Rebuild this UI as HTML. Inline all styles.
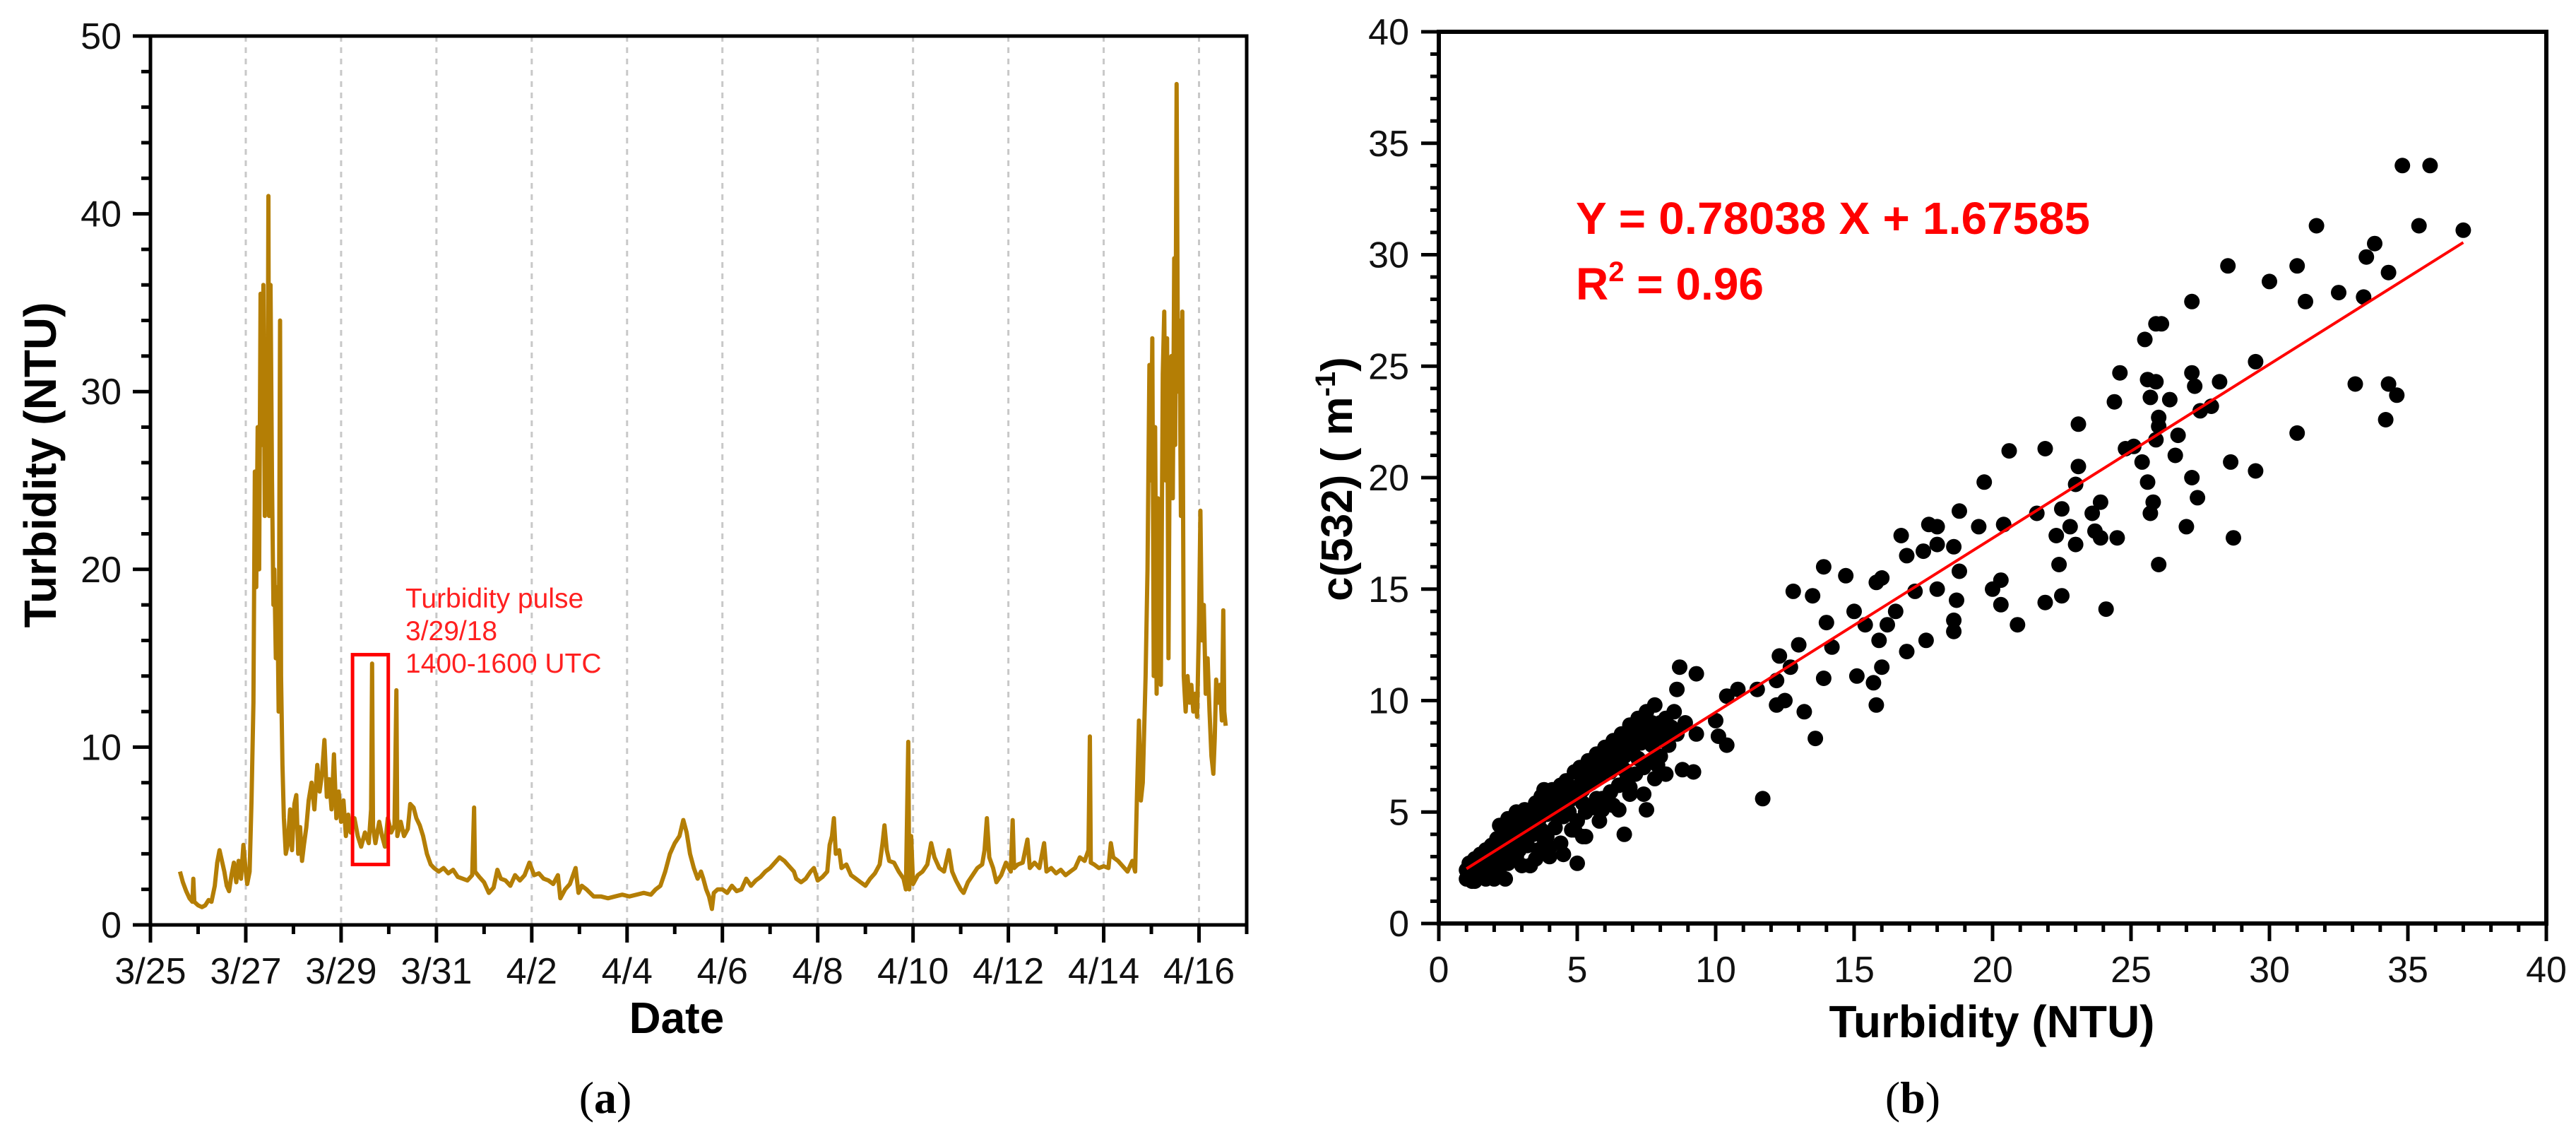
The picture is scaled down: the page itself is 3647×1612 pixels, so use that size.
<!DOCTYPE html>
<html><head><meta charset="utf-8"><style>
html,body{margin:0;padding:0;background:#fff;}
svg{display:block;}
text{font-family:"Liberation Sans",sans-serif;}
</style></head><body>
<svg id="fig" xmlns="http://www.w3.org/2000/svg" width="3647" height="1612" viewBox="0 0 3647 1612">
<g id="chartA"></g>
<g id="chartB"></g>
</svg>
<script>
// ---------- Chart (a) data ----------
const dayTicks = ["3/25","3/27","3/29","3/31","4/2","4/4","4/6","4/8","4/10","4/12","4/14","4/16"];
const yTicksA = [0,10,20,30,40,50];
const seriesDays = [0.62,0.68,0.75,0.82,0.88,0.9,0.92,1.0,1.08,1.15,1.22,1.28,1.35,1.4,1.45,1.5,1.55,1.6,1.65,1.7,1.75,1.8,1.85,1.9,1.95,2.0,2.03,2.08,2.12,2.16,2.19,2.22,2.25,2.28,2.31,2.34,2.37,2.4,2.43,2.46,2.475,2.49,2.52,2.55,2.58,2.6,2.63,2.66,2.69,2.72,2.74,2.77,2.8,2.84,2.88,2.93,2.97,3.02,3.06,3.1,3.14,3.18,3.22,3.27,3.32,3.38,3.44,3.5,3.55,3.6,3.65,3.7,3.75,3.8,3.85,3.9,3.95,4.0,4.05,4.1,4.15,4.2,4.28,4.35,4.42,4.5,4.58,4.63,4.65,4.67,4.72,4.8,4.86,4.92,4.98,5.05,5.12,5.16,5.18,5.25,5.32,5.4,5.45,5.52,5.58,5.65,5.72,5.8,5.88,5.95,6.05,6.15,6.25,6.35,6.45,6.55,6.65,6.75,6.79,6.81,6.9,7.0,7.1,7.2,7.28,7.35,7.45,7.55,7.65,7.75,7.85,7.95,8.05,8.15,8.25,8.35,8.45,8.55,8.6,8.7,8.8,8.92,8.98,9.05,9.15,9.3,9.45,9.6,9.75,9.9,10.05,10.2,10.35,10.5,10.6,10.7,10.8,10.9,11.0,11.1,11.18,11.25,11.32,11.4,11.48,11.55,11.6,11.66,11.72,11.78,11.82,11.9,12.0,12.1,12.2,12.3,12.4,12.5,12.6,12.7,12.8,12.9,13.0,13.1,13.2,13.3,13.4,13.5,13.55,13.65,13.75,13.85,13.92,14.0,14.1,14.2,14.25,14.3,14.34,14.38,14.45,14.5,14.6,14.7,14.8,14.9,15.0,15.1,15.2,15.3,15.36,15.4,15.45,15.5,15.6,15.7,15.8,15.85,15.9,15.92,15.96,16.0,16.1,16.2,16.3,16.38,16.45,16.55,16.65,16.75,16.82,16.9,17.0,17.06,17.15,17.25,17.35,17.45,17.5,17.55,17.6,17.68,17.75,17.85,17.95,18.05,18.09,18.12,18.2,18.3,18.4,18.45,18.55,18.65,18.75,18.8,18.9,19.0,19.1,19.2,19.3,19.4,19.5,19.6,19.68,19.71,19.73,19.8,19.9,20.0,20.1,20.15,20.2,20.3,20.4,20.5,20.6,20.66,20.7,20.74,20.78,20.82,20.88,20.92,20.96,20.99,21.02,21.05,21.08,21.11,21.14,21.17,21.2,21.24,21.27,21.3,21.33,21.36,21.39,21.42,21.45,21.48,21.5,21.53,21.56,21.59,21.62,21.65,21.68,21.72,21.76,21.8,21.84,21.88,21.92,21.96,22.0,22.03,22.06,22.1,22.14,22.18,22.22,22.26,22.3,22.33,22.36,22.4,22.44,22.48,22.51,22.53,22.56];
const seriesNTU = [3.0,2.4,1.9,1.5,1.3,2.6,1.3,1.1,1.0,1.1,1.4,1.3,2.2,3.5,4.2,3.6,3.0,2.2,1.9,2.8,3.5,2.4,3.6,2.6,4.5,3.0,2.3,3.0,7.0,12.5,25.5,19,28,20,35.5,27,36,23,33,29,41,23,36,25,18,20,15,19,12,34,14,9,6,4,4.5,6.5,4.2,6.8,7.3,4.0,5.5,3.6,4.5,5.5,7.0,8.0,6.5,9.0,7.5,8.5,10.4,7.2,8.2,6.5,9.6,6.0,7.5,5.8,7.0,5.0,6.2,5.2,6.0,5.0,4.4,5.2,4.6,6.5,14.7,5.5,4.6,5.8,5.0,4.4,6.0,5.2,5.6,13.2,5.0,5.8,5.0,5.4,6.8,6.6,6.0,5.6,5.0,4.0,3.4,3.2,3.0,3.2,2.9,3.1,2.7,2.6,2.5,2.8,6.6,3.0,2.7,2.4,1.8,2.1,3.1,2.6,2.5,2.2,2.8,2.5,2.8,3.5,2.8,2.9,2.6,2.5,2.3,2.8,1.5,2.0,2.3,3.2,1.8,2.2,2.0,1.6,1.6,1.5,1.6,1.7,1.6,1.7,1.8,1.7,2.0,2.2,3.0,4.0,4.6,5.0,5.9,5.2,4.0,3.2,2.6,3.0,2.6,2.0,1.6,0.9,1.8,2.0,2.0,1.8,2.2,1.9,2.0,2.6,2.2,2.5,2.7,3.0,3.2,3.5,3.8,3.6,3.3,3.0,2.6,2.4,2.6,3.0,3.2,2.5,2.7,3.0,4.5,5.0,6.0,4.0,4.2,3.2,3.4,2.8,2.6,2.4,2.2,2.6,2.9,3.4,4.6,5.6,4.2,3.6,3.5,3.0,2.6,2.0,10.3,2.0,5.0,2.3,2.8,3.0,3.4,4.6,3.8,3.2,3.0,4.2,3.0,2.5,2.0,1.8,2.4,2.8,3.2,3.4,4.2,6.0,3.8,3.2,2.4,2.8,3.5,3.0,5.9,3.2,3.4,3.5,4.8,3.2,3.5,3.2,4.6,3.0,3.2,2.9,3.1,2.8,3.0,3.2,3.8,3.6,4.2,10.6,3.5,3.4,3.2,3.3,3.2,4.6,3.8,3.6,3.3,3.0,3.6,3.0,7.5,11.5,7.0,8.0,14,20,31.5,25,33,14,28,13,24,20,13.5,31,34.5,25,33,15,30,32,24,37.5,27,47.3,30,34,23,34.5,14,12,14,12.5,13.5,12,13,11.7,17,23.3,16,18,13,15,12,9.5,8.5,10.5,13.8,12.5,13.5,11.5,17.7,12,11.2];
const pulseBoxDays = [4.24, 4.99];
const pulseBoxNTU = [3.4, 15.2];

// ---------- Chart (b) data ----------
const xTicksB = [0,5,10,15,20,25,30,35,40];
const yTicksB = [0,5,10,15,20,25,30,35,40];
const scatterX = [1,1,1.1,1.2,1.2,1.3,1.4,1.5,1.5,1.6,1.7,1.8,1.9,2.0,2.0,2.1,2.2,2.2,2.3,2.4,2.5,2.5,2.6,2.7,2.8,2.8,2.9,3.0,3.0,3.1,3.2,3.3,3.3,3.4,3.5,3.6,3.6,3.7,3.8,3.8,3.9,4.0,4.0,4.1,4.2,4.3,4.4,4.4,4.5,4.6,4.7,4.8,4.9,5.0,5.0,5.1,5.2,5.3,5.4,5.5,5.6,5.7,5.8,5.9,6.0,6.1,6.2,6.3,6.4,6.5,6.6,6.7,6.8,6.9,7.0,7.1,7.2,7.3,7.4,7.5,7.6,7.7,7.8,7.9,8.0,8.2,8.3,8.5,8.6,8.9,5.8,6.3,4.5,3.5,2.4,2.0,1.3,6.9,7.8,5.2,
1.1,1.3,1.6,1.9,2.1,2.3,2.6,2.9,3.1,3.4,3.7,3.9,4.1,4.3,4.6,4.8,5.1,5.3,5.5,5.7,6.0,6.2,6.4,6.6,6.8,7.1,7.3,7.5,7.7,8.0,8.4,1.7,2.2,2.7,3.2,3.7,4.2,4.7,5.2,5.7,6.2,6.7,7.2,7.7,8.1,2.9,3.9,4.9,5.9,6.9,7.9,
34.8,35.8,35.4,37,31.7,33.8,33.5,34.3,31,28.5,30,32.5,31.3,33.4,27.2,25.9,26.1,25.5,29.5,27.2,24.6,25.6,25.9,28.2,33.1,34.3,34.6,27.3,25.7,26.4,24.4,27.9,27.5,26,34.2,23.1,26,26.7,31,25.9,24.8,25.1,20.6,21.9,26.6,25.4,28.6,23.1,29.5,25.6,27.2,19.7,23,25.8,27.4,23.9,22.5,18.8,21.6,25.7,23.6,22.8,20.4,19.5,17.7,18,23.7,22.3,24.5,23.9,27,28.7,16.7,23,18,18.6,16.9,17.5,18.8,22.4,26,13.9,16,15.8,14.7,20.3,17.2,18,18.7,20,22.5,21.9,20.3,24.1,12.8,13.5,15,16.5,16.2,18.6,18.6,20.9,14,15.4,16.9,17.6,15.9,13,14.2,12.3,12.7,16,15.1,13.9,12.2,11.5,10.8,15.7,12.2,12.5,15.8,13.2,13.6,11.7,8.7,9.3,8.6,10.4,10,10.4,10.1,9.3,8.8,9.2,8.2,7.4,7.5,6.5,6.7,5.3,5,4,3.3];
const scatterY = [2.0,2.4,2.7,1.9,2.3,2.9,2.2,2.6,3.1,2.4,3.3,2.7,3.5,2.0,2.9,3.8,2.5,4.4,3.2,4.0,2.7,4.7,3.4,4.2,3.0,5.0,3.7,4.5,2.6,5.1,3.5,4.8,2.6,4.0,5.4,3.3,4.6,5.7,3.8,6.0,4.9,3.4,5.5,6.0,4.3,5.2,6.2,3.6,4.8,6.4,5.5,4.2,6.8,5.7,4.6,7.0,6.0,5.0,7.3,6.3,5.2,7.6,6.6,5.6,7.9,6.9,5.9,8.2,7.2,6.2,8.5,7.5,6.5,8.9,7.8,6.7,9.2,8.1,7.0,9.5,8.3,7.3,9.8,8.6,7.5,9.2,8.0,9.5,8.5,9.0,4.6,5.3,3.1,2.9,2.0,2.3,1.9,5.8,6.5,3.9,
2.2,2.5,2.8,3.0,3.3,3.6,3.9,4.1,4.2,4.6,4.9,5.2,5.1,5.6,5.8,6.1,6.2,6.6,6.8,7.0,7.3,7.6,7.8,8.1,8.2,8.4,8.8,8.8,9.0,9.0,8.8,2.0,3.0,3.3,3.9,4.2,4.9,5.0,5.4,5.6,6.8,6.9,7.4,8.0,8.3,3.3,3.9,4.2,5.1,6.1,7.1,
34,34,31.3,31.1,31.3,30.5,29.9,29.2,29.5,29.5,28.8,28.3,27.9,28.1,27.9,26.9,26.9,26.2,25.2,24.7,24.7,24.4,24.3,24.3,24.2,24.2,23.7,24.1,23.6,23.5,23.4,23.2,23,22.7,22.6,22.4,22.3,21.9,22,21.7,21.3,21.4,21.2,21.3,21,20.7,20.7,20.5,20.3,19.8,20,19.8,19.7,18.9,19.1,18.9,18.6,18.5,18.4,18.4,18.4,17.8,17.9,17.8,17.9,17.8,17.6,17.4,17.3,17.3,17.8,17.3,17.4,17,17,16.9,16.5,16.7,15.8,16.1,16.1,16,15.5,15.3,15.6,15.4,14.9,15,14.5,15,14.7,14.4,14.3,14.1,14.9,14.7,14,14,13.4,13.6,13.1,13.4,13.5,13.4,12.2,12.7,12.7,12.5,12.4,12,11.5,11.5,11.1,11,10.9,10.5,10.5,10.8,9.8,10,9.8,9.5,8.3,5.6,11.5,11.2,10.5,10.2,9.1,8,8.4,8.5,6.9,6.8,6.7,5.8,5.1,5.1,4,3.9,2.7,3,2.6];
const fitSlope = [0.78038];
const fitIntercept = [1.67585];
const fitRange = [1, 37];

const NS = "http://www.w3.org/2000/svg";
function mk(parent, tag, attrs, text){
  const el = document.createElementNS(NS, tag);
  for (const k in attrs) el.setAttribute(k, attrs[k]);
  if (text !== undefined) el.textContent = text;
  parent.appendChild(el);
  return el;
}

// ================= Chart A =================
(function(){
  const g = document.getElementById('chartA');
  const L=213, R=1765, T=51, B=1309;
  const xS = d => L + d*(R-L)/23;
  const yS = v => B - v*(B-T)/50;
  for (let i=1;i<dayTicks.length;i++){
    const gl = mk(g,'line',{x1:xS(i*2),x2:xS(i*2),y1:T,y2:B,stroke:'#c8c8c8','stroke-width':3,'stroke-dasharray':'8 8'});
    
    
  }
  let d='';
  for (let i=0;i<seriesDays.length;i++) d += (i?'L':'M') + xS(seriesDays[i]).toFixed(1)+' '+yS(seriesNTU[i]).toFixed(1);
  const line = mk(g,'path',{d:d,fill:'none',stroke:'#b47e05','stroke-width':6,'stroke-linejoin':'round'});
  
  
  const bx = mk(g,'rect',{x:xS(pulseBoxDays[0]),y:yS(pulseBoxNTU[1]),width:xS(pulseBoxDays[1])-xS(pulseBoxDays[0]),height:yS(pulseBoxNTU[0])-yS(pulseBoxNTU[1]),fill:'none',stroke:'#ff0000','stroke-width':5});
  
  
  const ann = mk(g,'text',{x:574,y:860,fill:'#ff2020','font-size':39});
  
  
  ['Turbidity pulse','3/29/18','1400-1600 UTC'].forEach((s,i)=>{ mk(ann,'tspan',{x:574,y:860+i*46},s); });
  const fr = mk(g,'rect',{x:L,y:T,width:R-L,height:B-T,fill:'none',stroke:'#000','stroke-width':5});
  
  
  for (let v=0; v<=50; v+=2){
    const major = v%10===0;
    const t = mk(g,'line',{x1:L-(major?25:13),x2:L,y1:yS(v),y2:yS(v),stroke:'#000','stroke-width':5});
    
    
  }
  yTicksA.forEach(v=>{
    const t = mk(g,'text',{x:172,y:yS(v)+18,'text-anchor':'end','font-size':52,fill:'#111'},String(v));
    
    
  });
  for (let dd=0; dd<=23; dd++){
    const major = dd%2===0;
    const t = mk(g,'line',{x1:xS(dd),x2:xS(dd),y1:B,y2:B+(major?25:13),stroke:'#000','stroke-width':5});
    
    
  }
  dayTicks.forEach((s,i)=>{
    const t = mk(g,'text',{x:xS(i*2),y:1392,'text-anchor':'middle','font-size':52,fill:'#111'},s);
    
    
  });
  const xt = mk(g,'text',{x:958,y:1462,'text-anchor':'middle','font-size':62,'font-weight':'bold'},'Date');
  
  
  const yt = mk(g,'text',{x:0,y:0,transform:'translate(79,658) rotate(-90)','text-anchor':'middle','font-size':64,'font-weight':'bold'},'Turbidity (NTU)');
  
  
  const cap = mk(g,'text',{x:857,y:1575,'text-anchor':'middle','font-size':64,style:'font-family:"Liberation Serif",serif'});
  
  
  mk(cap,'tspan',{},'(');
  mk(cap,'tspan',{'font-weight':'bold'},'a');
  mk(cap,'tspan',{},')');
})();

// ================= Chart B =================
(function(){
  const g = document.getElementById('chartB');
  const L=2037, R=3605, T=45, B=1307;
  const xS = v => L + v*(R-L)/40;
  const yS = v => B - v*(B-T)/40;
  const pts = mk(g,'g',{fill:'#000'});
  
  
  for (let i=0;i<scatterX.length;i++){
    const c = mk(pts,'circle',{cx:xS(scatterX[i]).toFixed(1),cy:yS(scatterY[i]).toFixed(1),r:11});
    
    
  }
  const fl = mk(g,'line',{x1:xS(fitRange[0]),y1:yS(fitSlope[0]*fitRange[0]+fitIntercept[0]),x2:xS(fitRange[1]),y2:yS(fitSlope[0]*fitRange[1]+fitIntercept[0]),stroke:'#ff0000','stroke-width':4});
  
  
  const fr = mk(g,'rect',{x:L,y:T,width:R-L,height:B-T,fill:'none',stroke:'#000','stroke-width':6});
  
  
  for (let v=0; v<=40; v++){
    const major = v%5===0;
    const t1 = mk(g,'line',{x1:L-(major?25:12),x2:L,y1:yS(v),y2:yS(v),stroke:'#000','stroke-width':5});
    
    
    const t2 = mk(g,'line',{x1:xS(v),x2:xS(v),y1:B,y2:B+(major?25:12),stroke:'#000','stroke-width':5});
    
    
  }
  yTicksB.forEach(v=>{
    const t = mk(g,'text',{x:1995,y:yS(v)+18,'text-anchor':'end','font-size':52,fill:'#111'},String(v));
    
    
  });
  xTicksB.forEach(v=>{
    const t = mk(g,'text',{x:xS(v),y:1390,'text-anchor':'middle','font-size':52,fill:'#111'},String(v));
    
    
  });
  const xt = mk(g,'text',{x:2820,y:1468,'text-anchor':'middle','font-size':64,'font-weight':'bold'},'Turbidity (NTU)');
  
  
  const yt = mk(g,'text',{x:0,y:0,transform:'translate(1914,678) rotate(-90)','text-anchor':'middle','font-size':62,'font-weight':'bold'});
  
  
  mk(yt,'tspan',{},'c(532) ( m');
  mk(yt,'tspan',{'font-size':40,dy:-24},'-1');
  mk(yt,'tspan',{dy:24},')');
  const eq = mk(g,'text',{x:2231,y:331,'font-size':64,'font-weight':'bold',fill:'#ff0000',textLength:728,lengthAdjust:'spacingAndGlyphs'},'Y = 0.78038 X + 1.67585');
  
  
  const r2 = mk(g,'text',{x:2231,y:424,'font-size':64,'font-weight':'bold',fill:'#ff0000'});
  
  
  mk(r2,'tspan',{},'R');
  mk(r2,'tspan',{'font-size':40,dy:-26},'2');
  mk(r2,'tspan',{dy:26},' = 0.96');
  const cap = mk(g,'text',{x:2708,y:1575,'text-anchor':'middle','font-size':64,style:'font-family:"Liberation Serif",serif'});
  
  
  mk(cap,'tspan',{},'(');
  mk(cap,'tspan',{'font-weight':'bold'},'b');
  mk(cap,'tspan',{},')');
})();
</script>
</body></html>
